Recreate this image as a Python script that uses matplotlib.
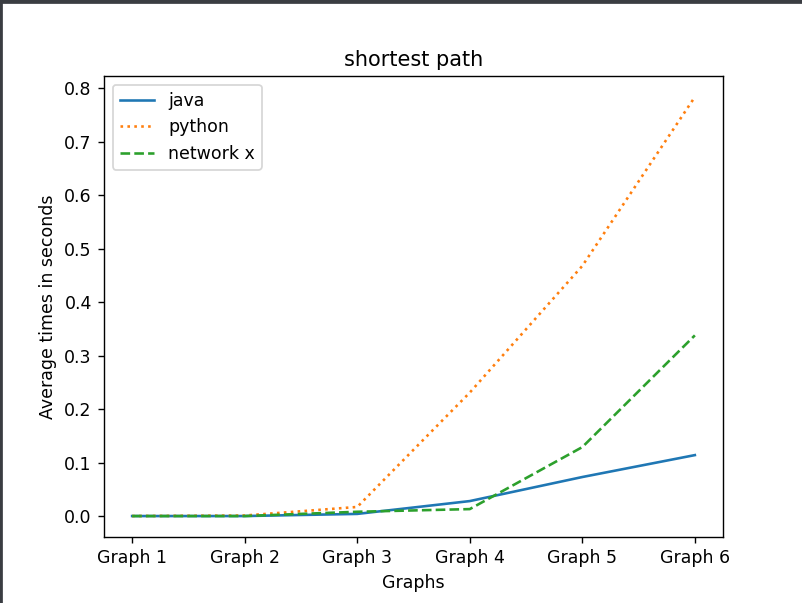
import matplotlib.pyplot as plt
from matplotlib.patches import Rectangle

graphs = ["Graph 1", "Graph 2", "Graph 3", "Graph 4", "Graph 5", "Graph 6"]
java = [0.0, 0.0, 0.004, 0.028, 0.073, 0.114]
python = [0.0, 0.001, 0.017, 0.231, 0.468, 0.784]
networkx = [0.0, 0.0, 0.008, 0.013, 0.129, 0.338]

fig = plt.figure(figsize=(802 / 125, 603 / 125), dpi=125)
fig.subplots_adjust(left=104 / 802, right=723 / 802, top=1 - 76 / 603, bottom=1 - 537 / 603)
ax = fig.add_subplot(111)

ax.plot(graphs, java, linestyle='-', label="java")
ax.plot(graphs, python, linestyle=':', label="python")
ax.plot(graphs, networkx, linestyle='--', label="network x")

ax.set_title("shortest path")
ax.set_xlabel("Graphs")
ax.set_ylabel("Average times in seconds")
ax.legend(loc="upper left")

# dark screenshot border on top and left
fig.patches.append(Rectangle((0, 1 - 3 / 603), 1, 3 / 603, transform=fig.transFigure,
                             color='#3a3d42', zorder=10))
fig.patches.append(Rectangle((0, 0), 2 / 802, 1, transform=fig.transFigure,
                             color='#3a3d42', zorder=10))

fig.savefig("out.png", dpi=125)
